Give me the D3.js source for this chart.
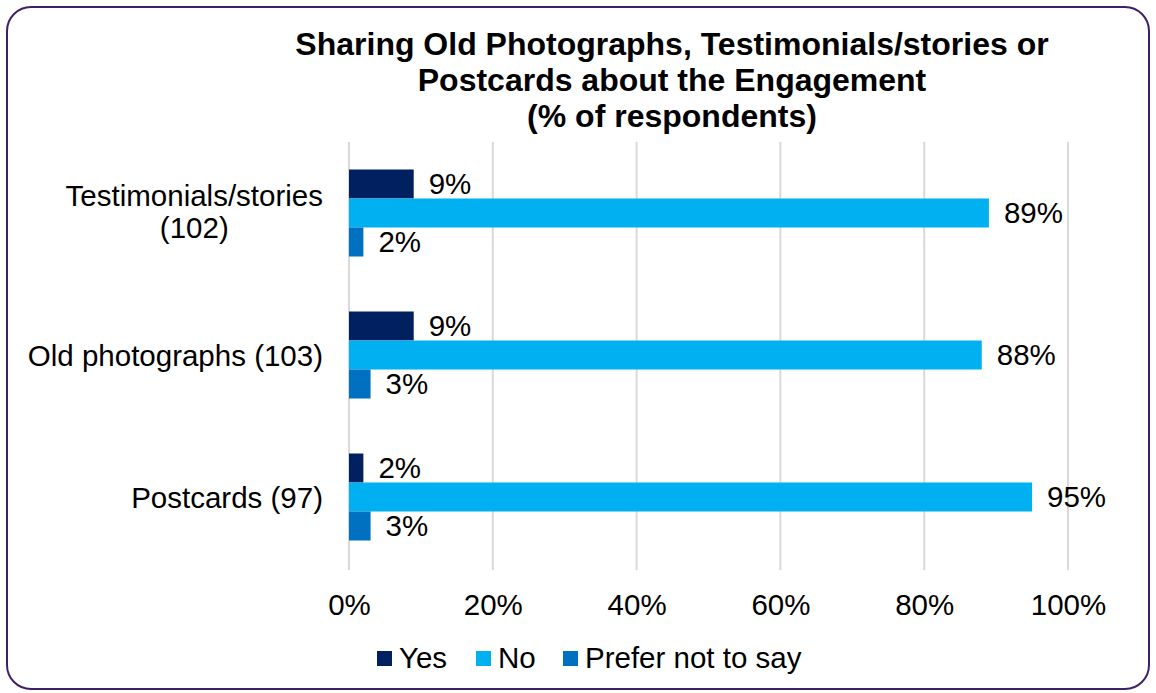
<!DOCTYPE html>
<html>
<head>
<meta charset="utf-8">
<script src="https://cdn.jsdelivr.net/npm/d3@7"></script>
<style>
  html, body { margin: 0; padding: 0; background: #fff; }
  svg { display: block; font-family: "Liberation Sans", Arial, sans-serif; }
</style>
</head>
<body>
<svg id="chart" width="1156" height="693"></svg>
<script>
// Survey categories, top to bottom
const categories = ["Testimonials/stories (102)", "Old photographs (103)", "Postcards (97)"];
const categoryLines = [["Testimonials/stories", "(102)"], ["Old photographs (103)"], ["Postcards (97)"]];
const seriesNames = ["Yes", "No", "Prefer not to say"];
// Percent of respondents per category
const yesValues = [9, 9, 2];
const noValues = [89, 88, 95];
const preferValues = [2, 3, 3];
const tickValues = [0, 20, 40, 60, 80, 100];
const titleLines = [
  "Sharing Old Photographs, Testimonials/stories or",
  "Postcards about the Engagement",
  "(% of respondents)"
];

const colors = ["#002060", "#00B0F0", "#0070C0"];
const seriesValues = [yesValues, noValues, preferValues];
const FS = 29.5;

const svg = d3.select("#chart");

// Rounded chart border
svg.append("rect")
  .attr("x", 7).attr("y", 7).attr("width", 1142).attr("height", 682)
  .attr("rx", 24).attr("ry", 24)
  .attr("fill", "#fff").attr("stroke", "#3F1F66").attr("stroke-width", 2);

// Title
svg.append("g").selectAll("text").data(titleLines).join("text")
  .attr("x", 672).attr("y", (d, i) => 55 + i * 36)
  .attr("text-anchor", "middle")
  .attr("font-weight", "bold").attr("font-size", 32).attr("fill", "#000")
  .text(d => d);

const x = d3.scaleLinear().domain([0, 100]).range([349, 1068]);
const y = d3.scaleBand().domain(categories).range([142, 568]).paddingInner(0).paddingOuter(0);
const sub = d3.scaleBand().domain(seriesNames).range([0, 87]);
const barOffset = (y.bandwidth() - 87) / 2;

// Vertical gridlines
svg.append("g").selectAll("line").data(tickValues).join("line")
  .attr("x1", d => x(d)).attr("x2", d => x(d))
  .attr("y1", 142).attr("y2", 570)
  .attr("stroke", "#D9D9D9").attr("stroke-width", 2);

// X axis tick labels
const xAxis = d3.axisBottom(x).tickValues(tickValues).tickFormat(d => d + "%").tickSize(0).tickPadding(0);
const gx = svg.append("g").attr("transform", "translate(0,615)").call(xAxis);
gx.select(".domain").remove();
gx.selectAll("text").attr("font-size", FS).attr("fill", "#000")
  .attr("font-family", "'Liberation Sans', Arial, sans-serif").attr("dy", "0").attr("y", 0);

// Category labels: multi-line labels are centred within their right-aligned block
const catG = svg.append("g").selectAll("g").data(categories).join("g");
catG.each(function(d, i) {
  const lines = categoryLines[i];
  const cy = y(d) + y.bandwidth() / 2;
  const g = d3.select(this);
  if (lines.length === 1) {
    g.append("text").attr("x", 323).attr("y", cy + 11)
      .attr("text-anchor", "end").attr("font-size", FS).attr("fill", "#000").text(lines[0]);
  } else {
    const first = g.append("text").attr("x", 323).attr("y", cy - 7)
      .attr("text-anchor", "end").attr("font-size", FS).attr("fill", "#000").text(lines[0]);
    const w = first.node().getComputedTextLength();
    g.append("text").attr("x", 323 - w / 2).attr("y", cy + 25)
      .attr("text-anchor", "middle").attr("font-size", FS).attr("fill", "#000").text(lines[1]);
  }
});

// Bars and value labels
const flat = [];
categories.forEach((c, ci) => {
  seriesNames.forEach((s, si) => flat.push({ cat: c, series: s, si, value: seriesValues[si][ci] }));
});

svg.append("g").selectAll("rect").data(flat).join("rect")
  .attr("x", x(0))
  .attr("y", d => y(d.cat) + barOffset + sub(d.series))
  .attr("width", d => x(d.value) - x(0))
  .attr("height", sub.bandwidth())
  .attr("fill", d => colors[d.si]);

svg.append("g").selectAll("text").data(flat).join("text")
  .attr("x", d => x(d.value) + 15)
  .attr("y", d => y(d.cat) + barOffset + sub(d.series) + sub.bandwidth() / 2 + 10)
  .attr("font-size", FS).attr("fill", "#000")
  .text(d => d.value + "%");

// Legend
const legendX = [377, 476, 563];
const lg = svg.append("g").selectAll("g").data(seriesNames).join("g")
  .attr("transform", (d, i) => `translate(${legendX[i]},658)`);
lg.append("rect").attr("x", 0).attr("y", -7).attr("width", 15).attr("height", 15)
  .attr("fill", (d, i) => colors[i]);
lg.append("text").attr("x", 22).attr("y", 10)
  .attr("font-size", FS).attr("fill", "#000").text(d => d);
</script>
</body>
</html>
